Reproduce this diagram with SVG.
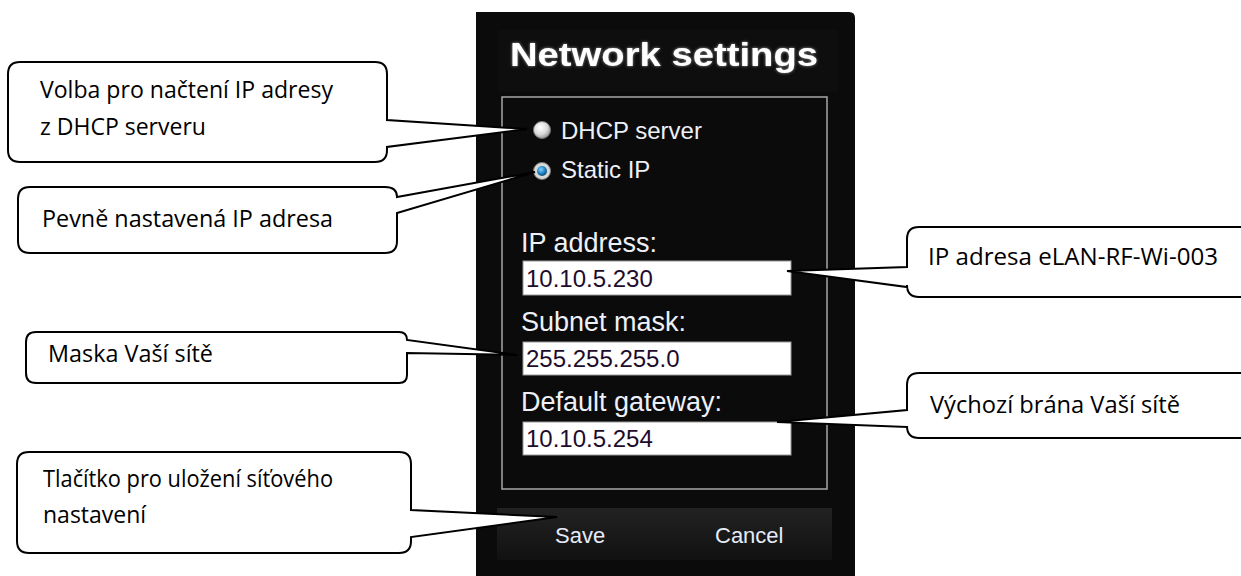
<svg xmlns="http://www.w3.org/2000/svg" width="1241" height="576" viewBox="0 0 1241 576">
<defs>
<style>
.call{fill:#fff;stroke:#000;stroke-width:2;stroke-linejoin:miter}
.ct{font-family:"Open Sans","Noto Sans",sans-serif;font-size:23px;fill:#000}
.lbl{font-family:"Liberation Sans",Arial,sans-serif;font-size:27px;fill:#eef0f8}
.rad{font-family:"Liberation Sans",Arial,sans-serif;font-size:24px;fill:#eef0f8}
.inp{fill:#fff;stroke:#9a9a9a;stroke-width:1}
.val{font-family:"Liberation Sans",Arial,sans-serif;font-size:24px;fill:#1e0c2c}
.btn{font-family:"Liberation Sans",Arial,sans-serif;font-size:22px;fill:#e6ecf8}
</style>
<filter id="glow" x="-10%" y="-30%" width="120%" height="160%">
<feGaussianBlur in="SourceAlpha" stdDeviation="2"/>
<feFlood flood-color="#9a9a9a"/>
<feComposite operator="in" in2="SourceAlpha"/>
<feGaussianBlur stdDeviation="1.5" result="g"/>
<feMerge><feMergeNode in="g"/><feMergeNode in="SourceGraphic"/></feMerge>
</filter>
<radialGradient id="rOff" cx="0.4" cy="0.35" r="0.7">
<stop offset="0" stop-color="#ffffff"/><stop offset="0.6" stop-color="#d8d8d8"/><stop offset="1" stop-color="#8a8a8a"/>
</radialGradient>
<radialGradient id="rOn" cx="0.4" cy="0.35" r="0.7">
<stop offset="0" stop-color="#7fd0ff"/><stop offset="0.6" stop-color="#1d7fc0"/><stop offset="1" stop-color="#0b3f66"/>
</radialGradient>
<linearGradient id="bar" x1="0" y1="0" x2="0" y2="1">
<stop offset="0" stop-color="#222"/><stop offset="1" stop-color="#111"/>
</linearGradient>
</defs>

<rect width="1241" height="576" fill="#fff"/>

<g id="panel">
<path d="M476,12 H849 Q855,12 855,18 V576 H476 Z" fill="#0b0b0b"/>
<rect x="498" y="30" width="340" height="62" fill="#0e0e0e"/>
<text x="510" y="66" font-family="Liberation Sans,Arial,sans-serif" font-size="34" font-weight="bold" fill="#fff" textLength="308" lengthAdjust="spacingAndGlyphs" filter="url(#glow)">Network settings</text>
<rect x="502" y="97" width="325" height="392" fill="none" stroke="#a8a8a8" stroke-width="1.5"/>
<circle cx="542" cy="130" r="8.5" fill="url(#rOff)" stroke="#777" stroke-width="1"/>
<text class="rad" x="561" y="139">DHCP server</text>
<circle cx="542" cy="171" r="8.5" fill="#d8d8d8" stroke="#777" stroke-width="1"/>
<circle cx="542" cy="171" r="5" fill="url(#rOn)"/>
<text class="rad" x="561" y="178">Static IP</text>
<text class="lbl" x="521" y="252">IP address:</text>
<rect class="inp" x="523" y="261" width="268" height="34"/>
<text class="val" x="526" y="287">10.10.5.230</text>
<text class="lbl" x="521" y="331">Subnet mask:</text>
<rect class="inp" x="523" y="342" width="268" height="33"/>
<text class="val" x="526" y="367">255.255.255.0</text>
<text class="lbl" x="521" y="411">Default gateway:</text>
<rect class="inp" x="523" y="422" width="268" height="33"/>
<text class="val" x="526" y="447">10.10.5.254</text>
<rect x="497" y="508" width="335" height="52" fill="url(#bar)"/>
<text class="btn" x="555" y="543">Save</text>
<text class="btn" x="715" y="543">Cancel</text>
</g>

<g id="connectors"></g>

<g id="callout-dhcp">
<path class="call" d="M20,62 H375 Q387,62 387,74 V120 L527,129 L387,147 V150 Q387,162 375,162 H20 Q8,162 8,150 V74 Q8,62 20,62 Z"/>
<text class="ct" x="40" y="98" textLength="293" lengthAdjust="spacingAndGlyphs">Volba pro načtení IP adresy</text>
<text class="ct" x="40" y="135">z DHCP serveru</text>
</g>

<g id="callout-static">
<path class="call" d="M30,187 H385 Q397,187 397,197 L535,172 L397,213 V241 Q397,253 385,253 H30 Q18,253 18,241 V199 Q18,187 30,187 Z"/>
<text class="ct" x="42" y="227" textLength="291" lengthAdjust="spacingAndGlyphs">Pevně nastavená IP adresa</text>
</g>

<g id="callout-mask">
<path class="call" d="M36,332 H399 Q407,332 407,340 L517,355 L407,353 V375 Q407,383 399,383 H36 Q26,383 26,373 V342 Q26,332 36,332 Z"/>
<text class="ct" x="48" y="362" textLength="165" lengthAdjust="spacingAndGlyphs">Maska Vaší sítě</text>
</g>

<g id="callout-save">
<path class="call" d="M29,452 H399 Q411,452 411,464 V510 L557,517 L411,537 V541 Q411,553 399,553 H29 Q17,553 17,541 V464 Q17,452 29,452 Z"/>
<text class="ct" x="43" y="487" textLength="290" lengthAdjust="spacingAndGlyphs">Tlačítko pro uložení síťového</text>
<text class="ct" x="43" y="523">nastavení</text>
</g>

<g id="callout-ip">
<path class="call" d="M1260,227 H919 Q907,227 907,239 V267 L787,271 L907,287 V285 Q907,297 919,297 H1260"/>
<text class="ct" x="928" y="265" textLength="290" lengthAdjust="spacingAndGlyphs">IP adresa eLAN-RF-Wi-003</text>
</g>

<g id="callout-gateway">
<path class="call" d="M1260,373 H919 Q907,373 907,385 V410 L777,422 L907,427 V426 Q907,438 919,438 H1260"/>
<text class="ct" x="930" y="413" textLength="250" lengthAdjust="spacingAndGlyphs">Výchozí brána Vaší sítě</text>
</g>
</svg>
